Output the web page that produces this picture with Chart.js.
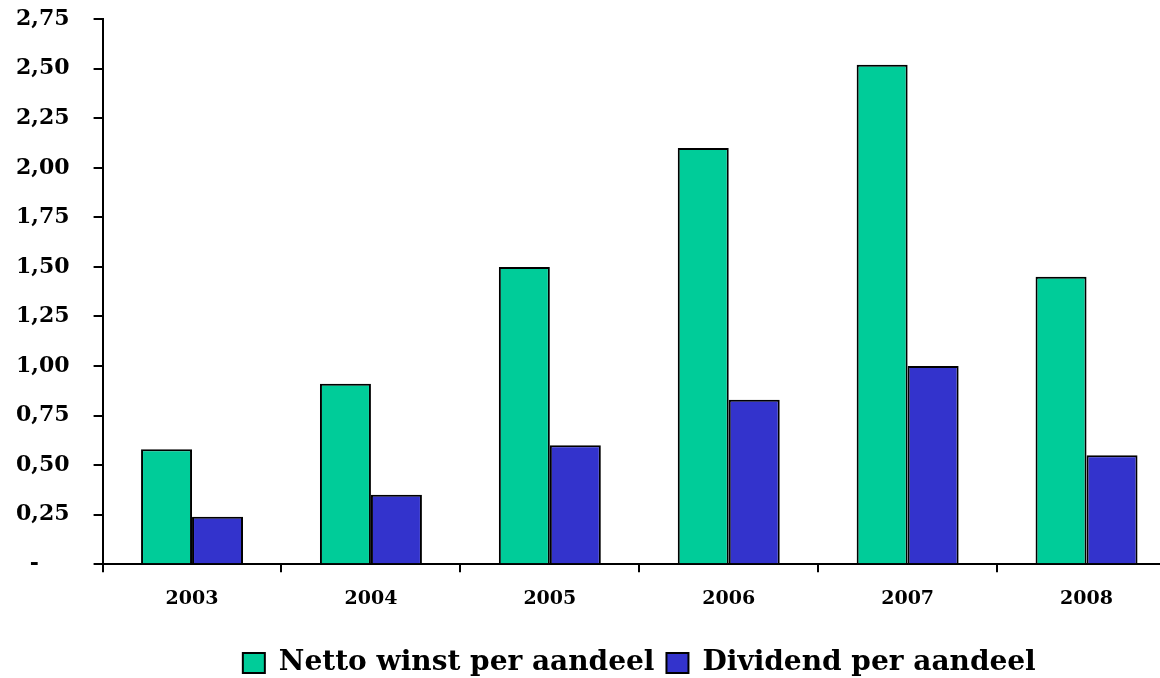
<!DOCTYPE html>
<html>
<head>
<meta charset="utf-8">
<script src="https://cdn.jsdelivr.net/npm/chart.js@4/dist/chart.umd.min.js"></script>
<style>
html,body{margin:0;padding:0;overflow:hidden;background:#fff;}
#wrap{width:1160px;height:678px;overflow:hidden;}
canvas{display:block;margin-top:-18px;}
</style>
</head>
<body>
<div id="wrap"><canvas id="c" width="1180" height="705"></canvas></div>
<script>
const categories = ['2003','2004','2005','2006','2007','2008'];
const nettoWinst = [0.58, 0.91, 1.50, 2.10, 2.52, 1.45];
const dividend = [0.24, 0.35, 0.60, 0.83, 1.00, 0.55];
const seriesNames = ['Netto winst per aandeel', 'Dividend per aandeel'];
const yMin = 0, yMax = 2.75, yStep = 0.25;

const FONT = 'DejaVu Serif';

new Chart(document.getElementById('c'), {
  type: 'bar',
  data: {
    labels: categories,
    datasets: [
      { label: seriesNames[0], data: nettoWinst, backgroundColor: '#00CC99', borderColor: '#000', borderWidth: 2, categoryPercentage: 0.57, barPercentage: 1.0 },
      { label: seriesNames[1], data: dividend, backgroundColor: '#3333CC', borderColor: '#000', borderWidth: 2, categoryPercentage: 0.57, barPercentage: 1.0 }
    ]
  },
  options: {
    responsive: false,
    animation: false,
    layout: { padding: { left: 15, top: 6, right: 4, bottom: 0 } },
    plugins: {
      tooltip: { enabled: false },
      legend: {
        position: 'bottom',
        fullSize: false,
        labels: {
          color: '#000',
          font: { family: FONT, size: 28, weight: 'bold' },
          boxWidth: 22, boxHeight: 20, padding: 12
        }
      }
    },
    scales: {
      x: {
        grid: { display: true, drawOnChartArea: false, drawTicks: true, tickLength: 8, color: '#000', lineWidth: 2, offset: true },
        border: { display: true, color: '#000', width: 2 },
        ticks: { color: '#000', font: { family: FONT, size: 19, weight: 'bold' }, padding: 15, maxRotation: 0 },
        afterFit: (s) => { s.height += 12; }
      },
      y: {
        min: yMin, max: yMax,
        grid: { display: true, drawOnChartArea: false, drawTicks: true, tickLength: 9, color: '#000', lineWidth: 2 },
        border: { display: true, color: '#000', width: 2 },
        ticks: {
          stepSize: yStep, color: '#000', padding: 24,
          font: { family: FONT, size: 22, weight: 'bold' },
          callback: (v) => Math.abs(v) < 1e-9 ? '-\u2007\u2007' : Number(v).toFixed(2).replace('.', ',')
        },
        afterFit: (s) => { s.width -= 23; }
      }
    }
  }
});
</script>
</body>
</html>
